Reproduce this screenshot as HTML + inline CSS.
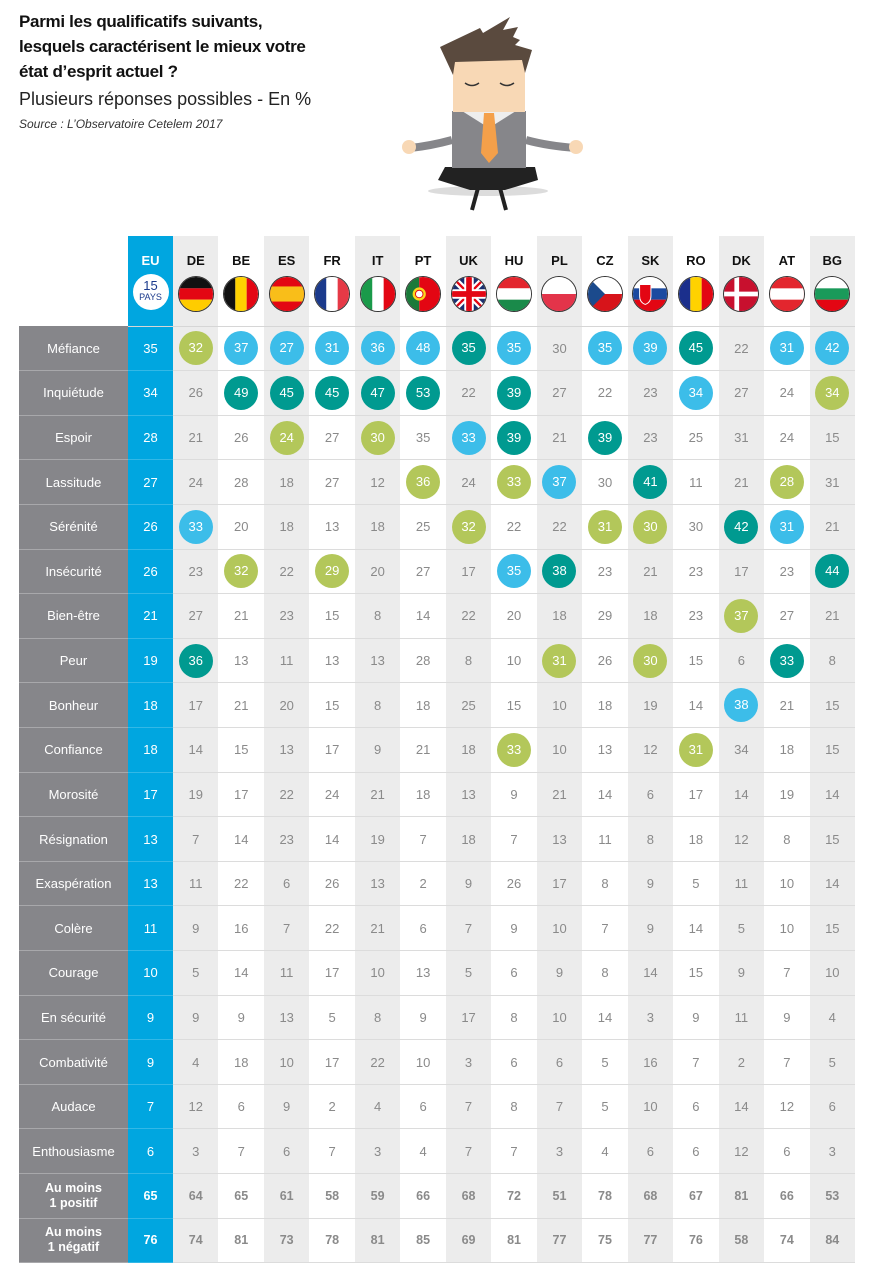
<!DOCTYPE html>
<html><head><meta charset="utf-8">
<style>
*{margin:0;padding:0;box-sizing:border-box}
body{width:880px;height:1282px;background:#fff;font-family:"Liberation Sans",sans-serif;position:relative;overflow:hidden}
.ttl{position:absolute;left:19px;top:9px;font-weight:bold;font-size:17px;line-height:25px;color:#111;letter-spacing:-0.3px}
.s{position:absolute;left:19px;top:89px;font-size:18px;color:#222}
.src{position:absolute;left:19px;top:117px;font-size:12px;font-style:italic;color:#333}
table{position:absolute;left:19px;top:236px;border-collapse:collapse;table-layout:fixed;width:836px}
td{text-align:center;vertical-align:middle;font-size:13px;color:#8a8a8a;height:44.62px;padding:0;border-bottom:1px solid #dcdcdc}
tr.h td{height:90px;border-bottom:1px solid #d6d6d6;vertical-align:top}
td.l{background:#86868a;color:#fff;border-bottom:1px solid #a8a8ab}
tr.h td.l{background:#fff;border-bottom:none}
td.e{background:#00a6e0;color:#fff;border-bottom:1px solid #33b8e6}
td:nth-child(odd):not(.e):not(.l){background:#ececec}
tr.b td{font-weight:bold;font-size:12.5px}
tr.b td.l{line-height:15px}
i{font-style:normal;display:inline-block;width:34px;height:34px;line-height:34px;border-radius:50%;color:#fff}
i.g{background:#b3c75a}i.b{background:#3cbde9}i.tl{background:#009a90}
.c{display:block;font-weight:bold;color:#111;font-size:13px;margin-top:17px}
.e .c{color:#fff}
.f{width:36px;height:36px;border-radius:50%;overflow:hidden;border:1px solid #333;margin:8px auto 0}
.f svg{display:block;width:100%;height:100%}
.eu{width:36px;height:36px;border-radius:50%;background:#fff;margin:6px auto 0;color:#1b3a8c;font-size:13px;line-height:13px;padding-top:5px}
.eu small{display:block;font-size:9px;line-height:10px}
</style></head><body>
<div class="ttl">Parmi les qualificatifs suivants,<br>lesquels caractérisent le mieux votre<br>état d’esprit actuel ?</div>
<div class="s">Plusieurs réponses possibles - En %</div>
<div class="src">Source : L’Observatoire Cetelem 2017</div>
<svg style="position:absolute;left:395px;top:10px" width="200" height="205" viewBox="395 10 200 205">
<ellipse cx="488" cy="191" rx="60" ry="5" fill="#dcdcdc"/>
<path d="M452 140 Q430 146 410 148" stroke="#86868a" stroke-width="8" fill="none"/>
<path d="M526 140 Q548 146 576 148" stroke="#86868a" stroke-width="8" fill="none"/>
<circle cx="409" cy="147" r="7" fill="#f8d8b5"/><circle cx="576" cy="147" r="7" fill="#f8d8b5"/>
<polygon points="445,167 535,167 538,180 505,190 470,190 438,180" fill="#222"/>
<path d="M478 188 L472 210 M500 188 L506 210" stroke="#222" stroke-width="4"/>
<rect x="452" y="111" width="74" height="57" fill="#86868a"/>
<polygon points="462,111 516,111 489,128" fill="#eee"/>
<rect x="453" y="58" width="72" height="54" fill="#f8d8b5"/>
<path d="M465 83 Q472 88 479 83 M500 83 Q507 88 514 83" stroke="#333" stroke-width="1.5" fill="none"/>
<polygon points="440,47 480,28 483,33 510,17 503,30 518,27 513,37 520,40 515,45 532,50 525,73 522,60 455,62 453,75" fill="#5a4a3e"/>
<polygon points="484,113 494,113 498,153 489,163 481,153" fill="#f4a04a"/>
</svg>
<table>
<colgroup><col style="width:109px"><col style="width:45px"><col span="15" style="width:45.47px"></colgroup>
<tr class="h"><td class="l"></td><td class="e"><span class="c">EU</span><div class="eu">15<small>PAYS</small></div></td>
<td><span class="c">DE</span><div class="f"><svg viewBox="0 0 36 36"><rect width="36" height="12" fill="#111"/><rect y="12" width="36" height="12" fill="#e30613"/><rect y="24" width="36" height="12" fill="#ffcc00"/></svg></div></td>
<td><span class="c">BE</span><div class="f"><svg viewBox="0 0 36 36"><rect width="12" height="36" fill="#111"/><rect x="12" width="12" height="36" fill="#ffd200"/><rect x="24" width="12" height="36" fill="#e30613"/></svg></div></td>
<td><span class="c">ES</span><div class="f"><svg viewBox="0 0 36 36"><rect width="36" height="36" fill="#e30613"/><rect y="10" width="36" height="16" fill="#f9be19"/></svg></div></td>
<td><span class="c">FR</span><div class="f"><svg viewBox="0 0 36 36"><rect width="12" height="36" fill="#1b3a8c"/><rect x="12" width="12" height="36" fill="#fff"/><rect x="24" width="12" height="36" fill="#e63946"/></svg></div></td>
<td><span class="c">IT</span><div class="f"><svg viewBox="0 0 36 36"><rect width="12" height="36" fill="#1a9a4a"/><rect x="12" width="12" height="36" fill="#fff"/><rect x="24" width="12" height="36" fill="#e30613"/></svg></div></td>
<td><span class="c">PT</span><div class="f"><svg viewBox="0 0 36 36"><rect width="14" height="36" fill="#1a7a3a"/><rect x="14" width="22" height="36" fill="#e30613"/><circle cx="14" cy="18" r="7" fill="#f9d71c"/><circle cx="14" cy="18" r="4" fill="#fff" stroke="#e30613"/></svg></div></td>
<td><span class="c">UK</span><div class="f"><svg viewBox="0 0 36 36"><rect width="36" height="36" fill="#1b2f6e"/><path d="M0 0L36 36M36 0L0 36" stroke="#fff" stroke-width="7"/><path d="M0 0L36 36M36 0L0 36" stroke="#e30613" stroke-width="2.5"/><path d="M18 0V36M0 18H36" stroke="#fff" stroke-width="10"/><path d="M18 0V36M0 18H36" stroke="#e30613" stroke-width="6"/></svg></div></td>
<td><span class="c">HU</span><div class="f"><svg viewBox="0 0 36 36"><rect width="36" height="12" fill="#e3262e"/><rect y="12" width="36" height="12" fill="#fff"/><rect y="24" width="36" height="12" fill="#1a8a4a"/></svg></div></td>
<td><span class="c">PL</span><div class="f"><svg viewBox="0 0 36 36"><rect width="36" height="18" fill="#fff"/><rect y="18" width="36" height="18" fill="#e3344a"/></svg></div></td>
<td><span class="c">CZ</span><div class="f"><svg viewBox="0 0 36 36"><rect width="36" height="18" fill="#fff"/><rect y="18" width="36" height="18" fill="#d7141a"/><polygon points="0,0 18,18 0,36" fill="#1b4a8c"/></svg></div></td>
<td><span class="c">SK</span><div class="f"><svg viewBox="0 0 36 36"><rect width="36" height="12" fill="#fff"/><rect y="12" width="36" height="12" fill="#1b4aa0"/><rect y="24" width="36" height="12" fill="#e30613"/><path d="M7 8H19V20Q19 27 13 29Q7 27 7 20Z" fill="#e30613" stroke="#fff"/></svg></div></td>
<td><span class="c">RO</span><div class="f"><svg viewBox="0 0 36 36"><rect width="12" height="36" fill="#1b2f8c"/><rect x="12" width="12" height="36" fill="#ffd200"/><rect x="24" width="12" height="36" fill="#e30613"/></svg></div></td>
<td><span class="c">DK</span><div class="f"><svg viewBox="0 0 36 36"><rect width="36" height="36" fill="#c8102e"/><rect x="11" width="5" height="36" fill="#fff"/><rect y="15.5" width="36" height="5" fill="#fff"/></svg></div></td>
<td><span class="c">AT</span><div class="f"><svg viewBox="0 0 36 36"><rect width="36" height="36" fill="#e3262e"/><rect y="12" width="36" height="12" fill="#fff"/></svg></div></td>
<td><span class="c">BG</span><div class="f"><svg viewBox="0 0 36 36"><rect width="36" height="12" fill="#fff"/><rect y="12" width="36" height="12" fill="#1a9a5a"/><rect y="24" width="36" height="12" fill="#e30613"/></svg></div></td></tr>
<tr><td class="l">Méfiance</td><td class="e">35</td><td><i class="g">32</i></td><td><i class="b">37</i></td><td><i class="b">27</i></td><td><i class="b">31</i></td><td><i class="b">36</i></td><td><i class="b">48</i></td><td><i class="tl">35</i></td><td><i class="b">35</i></td><td>30</td><td><i class="b">35</i></td><td><i class="b">39</i></td><td><i class="tl">45</i></td><td>22</td><td><i class="b">31</i></td><td><i class="b">42</i></td></tr>
<tr><td class="l">Inquiétude</td><td class="e">34</td><td>26</td><td><i class="tl">49</i></td><td><i class="tl">45</i></td><td><i class="tl">45</i></td><td><i class="tl">47</i></td><td><i class="tl">53</i></td><td>22</td><td><i class="tl">39</i></td><td>27</td><td>22</td><td>23</td><td><i class="b">34</i></td><td>27</td><td>24</td><td><i class="g">34</i></td></tr>
<tr><td class="l">Espoir</td><td class="e">28</td><td>21</td><td>26</td><td><i class="g">24</i></td><td>27</td><td><i class="g">30</i></td><td>35</td><td><i class="b">33</i></td><td><i class="tl">39</i></td><td>21</td><td><i class="tl">39</i></td><td>23</td><td>25</td><td>31</td><td>24</td><td>15</td></tr>
<tr><td class="l">Lassitude</td><td class="e">27</td><td>24</td><td>28</td><td>18</td><td>27</td><td>12</td><td><i class="g">36</i></td><td>24</td><td><i class="g">33</i></td><td><i class="b">37</i></td><td>30</td><td><i class="tl">41</i></td><td>11</td><td>21</td><td><i class="g">28</i></td><td>31</td></tr>
<tr><td class="l">Sérénité</td><td class="e">26</td><td><i class="b">33</i></td><td>20</td><td>18</td><td>13</td><td>18</td><td>25</td><td><i class="g">32</i></td><td>22</td><td>22</td><td><i class="g">31</i></td><td><i class="g">30</i></td><td>30</td><td><i class="tl">42</i></td><td><i class="b">31</i></td><td>21</td></tr>
<tr><td class="l">Insécurité</td><td class="e">26</td><td>23</td><td><i class="g">32</i></td><td>22</td><td><i class="g">29</i></td><td>20</td><td>27</td><td>17</td><td><i class="b">35</i></td><td><i class="tl">38</i></td><td>23</td><td>21</td><td>23</td><td>17</td><td>23</td><td><i class="tl">44</i></td></tr>
<tr><td class="l">Bien-être</td><td class="e">21</td><td>27</td><td>21</td><td>23</td><td>15</td><td>8</td><td>14</td><td>22</td><td>20</td><td>18</td><td>29</td><td>18</td><td>23</td><td><i class="g">37</i></td><td>27</td><td>21</td></tr>
<tr><td class="l">Peur</td><td class="e">19</td><td><i class="tl">36</i></td><td>13</td><td>11</td><td>13</td><td>13</td><td>28</td><td>8</td><td>10</td><td><i class="g">31</i></td><td>26</td><td><i class="g">30</i></td><td>15</td><td>6</td><td><i class="tl">33</i></td><td>8</td></tr>
<tr><td class="l">Bonheur</td><td class="e">18</td><td>17</td><td>21</td><td>20</td><td>15</td><td>8</td><td>18</td><td>25</td><td>15</td><td>10</td><td>18</td><td>19</td><td>14</td><td><i class="b">38</i></td><td>21</td><td>15</td></tr>
<tr><td class="l">Confiance</td><td class="e">18</td><td>14</td><td>15</td><td>13</td><td>17</td><td>9</td><td>21</td><td>18</td><td><i class="g">33</i></td><td>10</td><td>13</td><td>12</td><td><i class="g">31</i></td><td>34</td><td>18</td><td>15</td></tr>
<tr><td class="l">Morosité</td><td class="e">17</td><td>19</td><td>17</td><td>22</td><td>24</td><td>21</td><td>18</td><td>13</td><td>9</td><td>21</td><td>14</td><td>6</td><td>17</td><td>14</td><td>19</td><td>14</td></tr>
<tr><td class="l">Résignation</td><td class="e">13</td><td>7</td><td>14</td><td>23</td><td>14</td><td>19</td><td>7</td><td>18</td><td>7</td><td>13</td><td>11</td><td>8</td><td>18</td><td>12</td><td>8</td><td>15</td></tr>
<tr><td class="l">Exaspération</td><td class="e">13</td><td>11</td><td>22</td><td>6</td><td>26</td><td>13</td><td>2</td><td>9</td><td>26</td><td>17</td><td>8</td><td>9</td><td>5</td><td>11</td><td>10</td><td>14</td></tr>
<tr><td class="l">Colère</td><td class="e">11</td><td>9</td><td>16</td><td>7</td><td>22</td><td>21</td><td>6</td><td>7</td><td>9</td><td>10</td><td>7</td><td>9</td><td>14</td><td>5</td><td>10</td><td>15</td></tr>
<tr><td class="l">Courage</td><td class="e">10</td><td>5</td><td>14</td><td>11</td><td>17</td><td>10</td><td>13</td><td>5</td><td>6</td><td>9</td><td>8</td><td>14</td><td>15</td><td>9</td><td>7</td><td>10</td></tr>
<tr><td class="l">En sécurité</td><td class="e">9</td><td>9</td><td>9</td><td>13</td><td>5</td><td>8</td><td>9</td><td>17</td><td>8</td><td>10</td><td>14</td><td>3</td><td>9</td><td>11</td><td>9</td><td>4</td></tr>
<tr><td class="l">Combativité</td><td class="e">9</td><td>4</td><td>18</td><td>10</td><td>17</td><td>22</td><td>10</td><td>3</td><td>6</td><td>6</td><td>5</td><td>16</td><td>7</td><td>2</td><td>7</td><td>5</td></tr>
<tr><td class="l">Audace</td><td class="e">7</td><td>12</td><td>6</td><td>9</td><td>2</td><td>4</td><td>6</td><td>7</td><td>8</td><td>7</td><td>5</td><td>10</td><td>6</td><td>14</td><td>12</td><td>6</td></tr>
<tr><td class="l">Enthousiasme</td><td class="e">6</td><td>3</td><td>7</td><td>6</td><td>7</td><td>3</td><td>4</td><td>7</td><td>7</td><td>3</td><td>4</td><td>6</td><td>6</td><td>12</td><td>6</td><td>3</td></tr>
<tr class="b"><td class="l">Au moins<br>1 positif</td><td class="e">65</td><td>64</td><td>65</td><td>61</td><td>58</td><td>59</td><td>66</td><td>68</td><td>72</td><td>51</td><td>78</td><td>68</td><td>67</td><td>81</td><td>66</td><td>53</td></tr>
<tr class="b"><td class="l">Au moins<br>1 négatif</td><td class="e">76</td><td>74</td><td>81</td><td>73</td><td>78</td><td>81</td><td>85</td><td>69</td><td>81</td><td>77</td><td>75</td><td>77</td><td>76</td><td>58</td><td>74</td><td>84</td></tr>
</table>
</body></html>
